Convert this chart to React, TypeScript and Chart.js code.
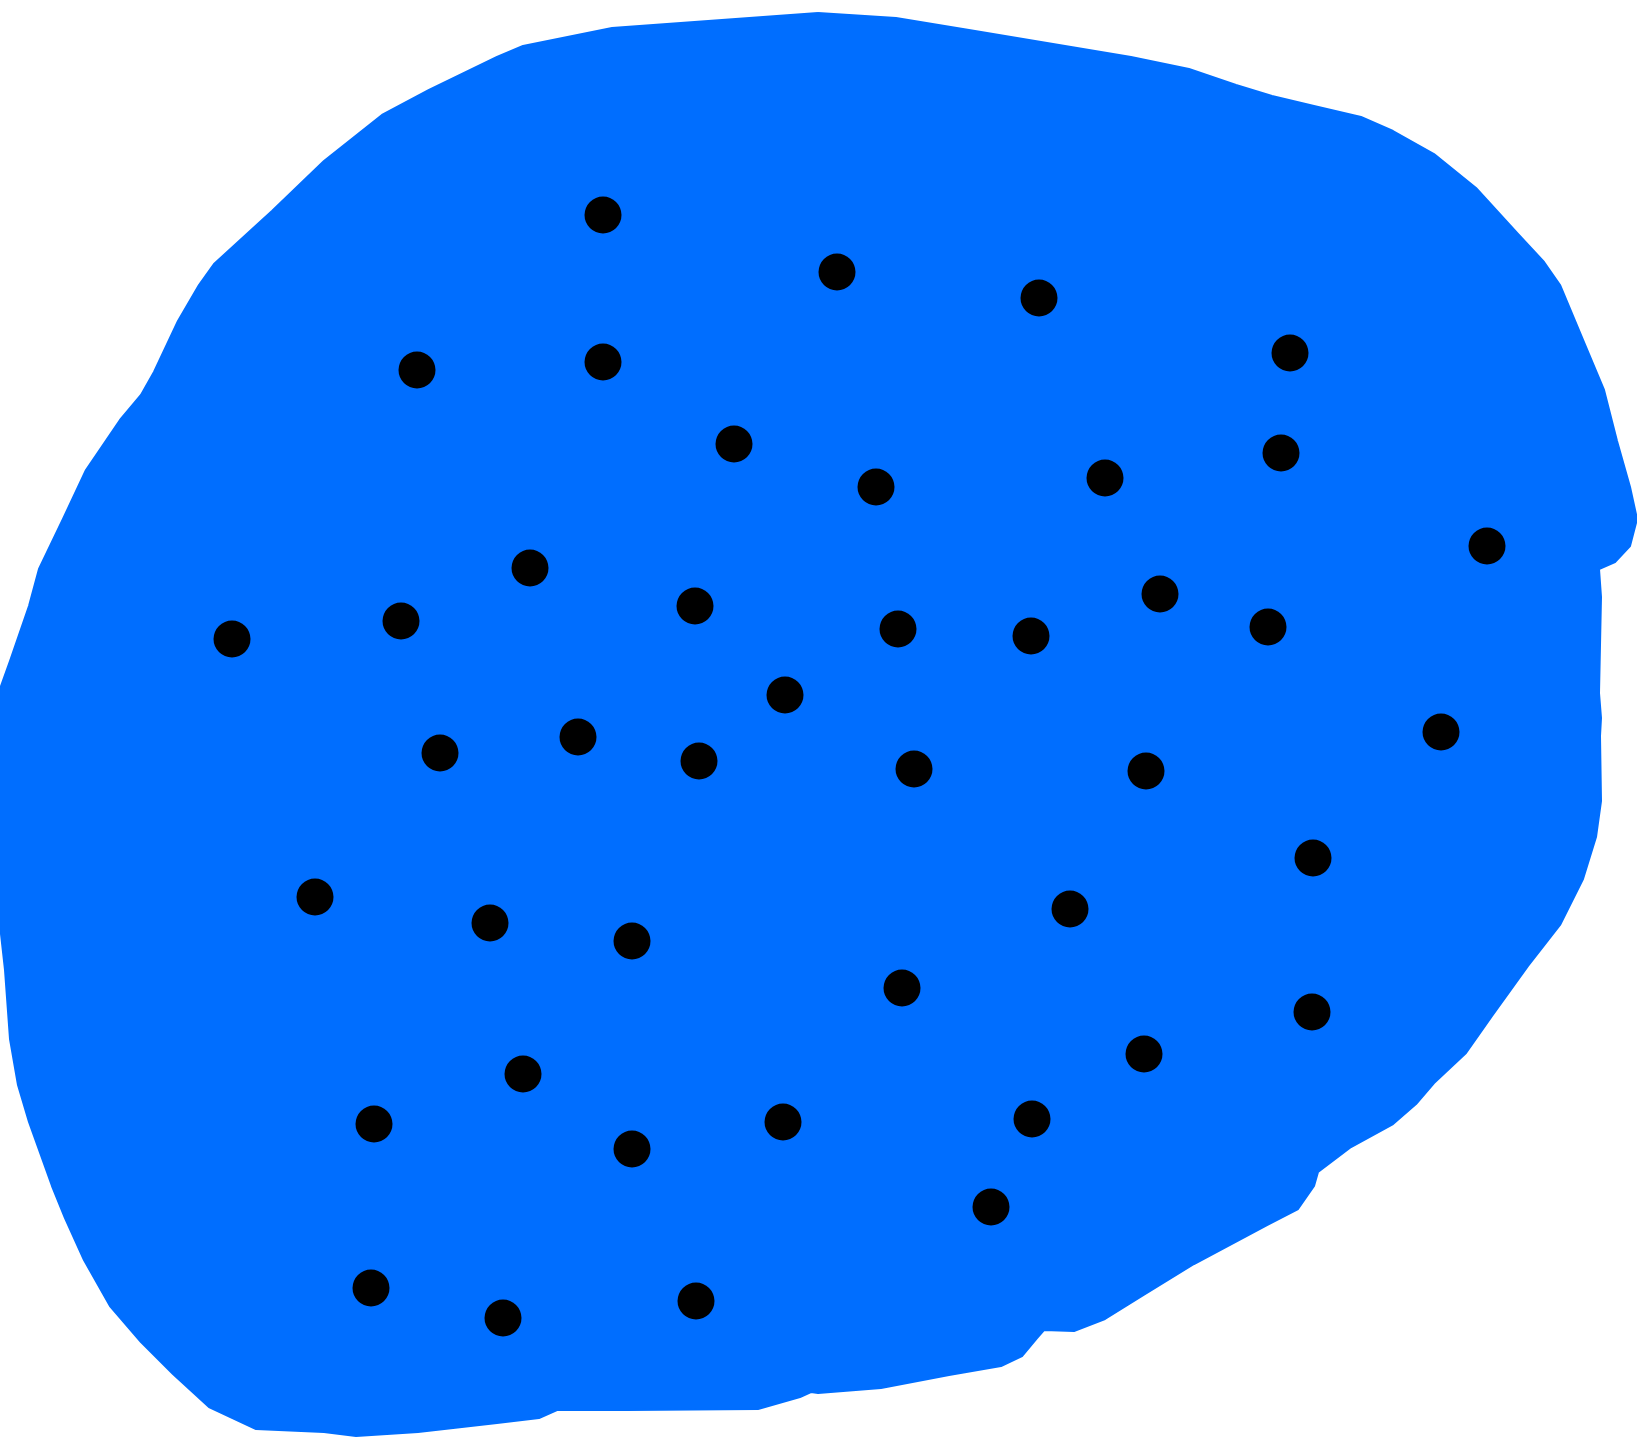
import React, { useEffect, useRef } from "react";
import { Chart, registerables } from "chart.js";

Chart.register(...registerables);

// Black markers (x, y values on a 0–1637 / 0–1438 plane, y downward)
const dotX = [603, 837, 1039, 1290, 417, 603, 734, 876, 1105, 1281, 1487, 530, 695, 232, 401, 898, 1031, 1160, 1268, 785, 440, 578, 699, 914, 1146, 1441, 1313, 315, 490, 632, 1070, 902, 1312, 523, 374, 632, 783, 1032, 1144, 991, 371, 503, 696];
const dotY = [215, 272, 298, 353, 370, 362, 444, 487, 478, 453, 546, 568, 606, 639, 621, 629, 636, 594, 627, 695, 753, 737, 761, 769, 771, 732, 858, 897, 923, 941, 909, 988, 1012, 1074, 1124, 1149, 1122, 1119, 1054, 1207, 1288, 1318, 1301];

// Outline of the blue region
const outlineX = [818, 612, 523, 497, 429, 382, 324, 272, 214, 199, 178, 154, 141, 120, 86, 63, 39, 29, 10, 0, 0, 5, 10, 18, 29, 52, 65, 84, 110, 141, 173, 209, 256, 324, 356, 418, 497, 539, 557, 628, 758, 800, 811, 818, 881, 949, 1001, 1022, 1037, 1044, 1074, 1105, 1142, 1194, 1267, 1298, 1314, 1318, 1351, 1393, 1416, 1434, 1466, 1492, 1528, 1560, 1583, 1596, 1601, 1600, 1601, 1599, 1601, 1599, 1615, 1630, 1637, 1630, 1617, 1604, 1583, 1560, 1544, 1518, 1476, 1434, 1393, 1361, 1314, 1272, 1236, 1189, 1131, 1053, 975, 896, 818];
const outlineY = [13, 28, 46, 57, 90, 115, 161, 211, 264, 285, 321, 372, 395, 420, 470, 519, 569, 606, 661, 689, 925, 970, 1039, 1085, 1122, 1186, 1218, 1260, 1306, 1342, 1374, 1407, 1429, 1432, 1436, 1432, 1423, 1418, 1410, 1410, 1409, 1397, 1392, 1393, 1388, 1375, 1366, 1356, 1338, 1330, 1331, 1319, 1296, 1264, 1225, 1209, 1186, 1172, 1147, 1124, 1104, 1083, 1053, 1016, 966, 925, 879, 837, 801, 736, 718, 693, 597, 569, 562, 546, 519, 487, 441, 390, 340, 285, 262, 234, 188, 154, 131, 117, 106, 96, 85, 69, 57, 44, 31, 18, 13];

const BLUE = "#006eff";

export default function App() {
  const ref = useRef<HTMLCanvasElement | null>(null);

  useEffect(() => {
    if (!ref.current) return;
    const chart = new Chart(ref.current, {
      type: "scatter",
      data: {
        datasets: [
          {
            label: "dots",
            data: dotX.map((x, i) => ({ x, y: dotY[i] })),
            backgroundColor: "#000000",
            borderColor: "#000000",
            pointRadius: 18.5,
            pointBorderWidth: 0,
            order: 1,
            clip: false as any,
          },
          {
            label: "region",
            data: outlineX.map((x, i) => ({ x, y: outlineY[i] })),
            showLine: true,
            fill: "shape" as any,
            backgroundColor: BLUE,
            borderColor: BLUE,
            borderWidth: 2,
            borderJoinStyle: "round",
            pointRadius: 0,
            tension: 0,
            order: 2,
            clip: false as any,
          },
        ],
      },
      options: {
        animation: false,
        responsive: false,
        maintainAspectRatio: false,
        layout: { padding: 0, autoPadding: false } as any,
        plugins: {
          legend: { display: false },
          tooltip: { enabled: false },
        },
        scales: {
          x: { type: "linear", min: 0, max: 1637, display: false },
          y: { type: "linear", min: 0, max: 1438, reverse: true, display: false },
        },
      },
    });
    return () => chart.destroy();
  }, []);

  return (
    <div style={{ position: "absolute", left: 0, top: 0, width: 1637, height: 1438, background: "#ffffff" }}>
      <canvas ref={ref} width={1637} height={1438} style={{ display: "block" }} />
    </div>
  );
}
